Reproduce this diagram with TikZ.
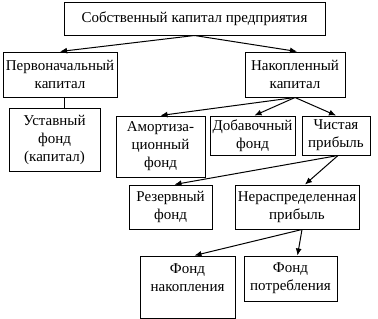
\documentclass[tikz,border=0pt]{standalone}
\usepackage{fontspec}
\setmainfont{Liberation Serif}
\usetikzlibrary{arrows.meta,positioning,calc}

\begin{document}
\begin{tikzpicture}[
    x=1pt, y=-1pt,
    box/.style={draw, line width=1pt, inner sep=0pt, align=center,
        font=\fontsize{15}{18}\selectfont},
    link/.style={line width=1pt, -{Latex[length=7pt,width=6pt]}}
]
\useasboundingbox (0,0) rectangle (378,319);

% Top level
\node[box, minimum width=261pt, minimum height=33pt] (own) at (194.5,18.5) {Собственный капитал предприятия};

% Second level
\node[box, minimum width=114pt, minimum height=45pt] (initial) at (60,74.5) {Первоначальный\\капитал};
\node[box, minimum width=100pt, minimum height=45pt] (accum) at (295,74.5) {Накопленный\\капитал};

% Third level
\node[box, minimum width=91pt, minimum height=63pt] (charter) at (54.5,139.5) {Уставный\\фонд\\(капитал)};
\node[box, minimum width=89pt, minimum height=61pt] (amort) at (160.5,146.5) {Амортиза-\\ционный\\фонд};
\node[box, minimum width=85pt, minimum height=39pt] (extra) at (252.5,135.5) {Добавочный\\фонд};
\node[box, minimum width=68pt, minimum height=39pt] (profit) at (336,135.5) {Чистая\\прибыль};

% Fourth level
\node[box, minimum width=83pt, minimum height=44pt] (reserve) at (170.5,207) {Резервный\\фонд};
\node[box, minimum width=124pt, minimum height=44pt] (retained) at (297,207) {Нераспределенная\\прибыль};

% Bottom level
\node[box, minimum width=95pt, minimum height=62pt] (accfund) at (187.5,287) {Фонд\\накопления\\\mbox{}};
\node[box, minimum width=93pt, minimum height=45pt] (consfund) at (290.5,278.5) {Фонд\\потребления};

% Connectors
\draw[link] (own.south) -- (initial.north);
\draw[link] (own.south) -- ([xshift=2pt]accum.north);
\draw[line width=1pt] ([xshift=4pt]initial.south) -- ([xshift=4pt]initial.south |- charter.north);
\draw[link] (accum.south) -- (amort.north);
\draw[link] (accum.south) -- ([xshift=2pt]extra.north);
\draw[link] (accum.south) -- (profit.north);
\draw[link] ([xshift=2pt]profit.south) -- ([xshift=4pt]reserve.north);
\draw[link] ([xshift=2pt]profit.south) -- ([xshift=8pt]retained.north);
\draw[link] ([xshift=5pt]retained.south) -- ([xshift=7pt]accfund.north);
\draw[link] ([xshift=5pt]retained.south) -- ([xshift=7pt]consfund.north);
\end{tikzpicture}
\end{document}
